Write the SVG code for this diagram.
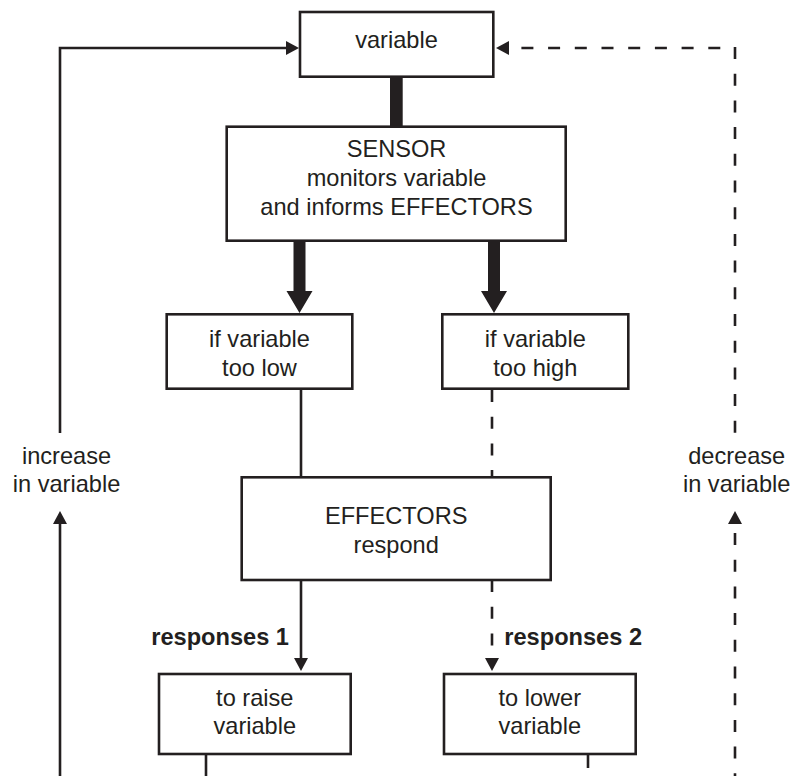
<svg xmlns="http://www.w3.org/2000/svg" width="795" height="776" viewBox="0 0 795 776">
<style>
.box{fill:#fff;stroke:#231f20;stroke-width:2.6}
.t{font-family:"Liberation Sans",Arial,Helvetica,sans-serif;font-size:23.6px;fill:#231f20;text-anchor:middle}
.b{font-weight:bold}
.ln{fill:none;stroke:#231f20;stroke-width:2.6}
.ds{stroke-dasharray:12 14.7}
.thick{fill:#231f20;stroke:none}
</style>
<defs>
<marker id="ah" viewBox="0 0 13 14" refX="0" refY="7" markerWidth="13" markerHeight="14" markerUnits="userSpaceOnUse" orient="auto">
<path d="M0,0 L13,7 L0,14 z" fill="#231f20"/>
</marker>
</defs>
<rect width="795" height="776" fill="#fff"/>
<g id="connectors">
<rect class="thick" x="390" y="76" width="12.7" height="52"/>
<polygon class="thick" points="293.5,240 305.5,240 305.5,291 312.5,291 299.5,313 286.5,291 293.5,291"/>
<polygon class="thick" points="488,240 500,240 500,291 507,291 494,313 481,291 488,291"/>
<path class="ln" d="M301,389 V477"/>
<path class="ln ds" d="M492,390 V477"/>
<path class="ln" d="M301,580 V658" marker-end="url(#ah)"/>
<path class="ln ds" d="M492,580 V658" marker-end="url(#ah)"/>
<path class="ln" d="M206,754 V776"/>
<path class="ln" d="M588,754 V768"/>
<path class="ln" d="M60,433 V48 H286" marker-end="url(#ah)"/>
<path class="ln" d="M60,776 V524" marker-end="url(#ah)"/>
<path class="ln ds" d="M735,47 V433"/>
<path class="ln ds" d="M735,48 H509" stroke-dashoffset="12" marker-end="url(#ah)"/>
<path class="ln ds" d="M735,776 V524" stroke-dashoffset="9.3" marker-end="url(#ah)"/>
</g>
<g id="variable">
<rect class="box" x="300" y="12" width="193.3" height="64.7"/>
<text class="t" x="396.5" y="47.5">variable</text>
</g>
<g id="sensor">
<rect class="box" x="226.7" y="126.7" width="339" height="114"/>
<text class="t" x="396.5" y="157">SENSOR</text>
<text class="t" x="396.5" y="186">monitors variable</text>
<text class="t" x="396.5" y="215">and informs EFFECTORS</text>
</g>
<g id="too-low">
<rect class="box" x="166.7" y="314.3" width="185.6" height="74.4"/>
<text class="t" x="259.5" y="347.3">if variable</text>
<text class="t" x="259.5" y="376">too low</text>
</g>
<g id="too-high">
<rect class="box" x="442.3" y="314.3" width="186" height="74.4"/>
<text class="t" x="535.3" y="347.3">if variable</text>
<text class="t" x="535.3" y="376">too high</text>
</g>
<g id="effectors">
<rect class="box" x="241.7" y="477.3" width="309" height="102.7"/>
<text class="t" x="396.2" y="524">EFFECTORS</text>
<text class="t" x="396.2" y="552.7">respond</text>
</g>
<g id="raise">
<rect class="box" x="159" y="674" width="191.7" height="80"/>
<text class="t" x="254.8" y="705.7">to raise</text>
<text class="t" x="254.8" y="734.3">variable</text>
</g>
<g id="lower">
<rect class="box" x="444" y="674" width="191.7" height="80"/>
<text class="t" x="539.8" y="705.7">to lower</text>
<text class="t" x="539.8" y="734.3">variable</text>
</g>
<g id="labels">
<text class="t" x="66.5" y="464">increase</text>
<text class="t" x="66.5" y="492.3">in variable</text>
<text class="t" x="736.7" y="464">decrease</text>
<text class="t" x="736.7" y="492.3">in variable</text>
<text class="t b" x="289" y="645" style="text-anchor:end">responses 1</text>
<text class="t b" x="504.3" y="645" style="text-anchor:start">responses 2</text>
</g>
</svg>
